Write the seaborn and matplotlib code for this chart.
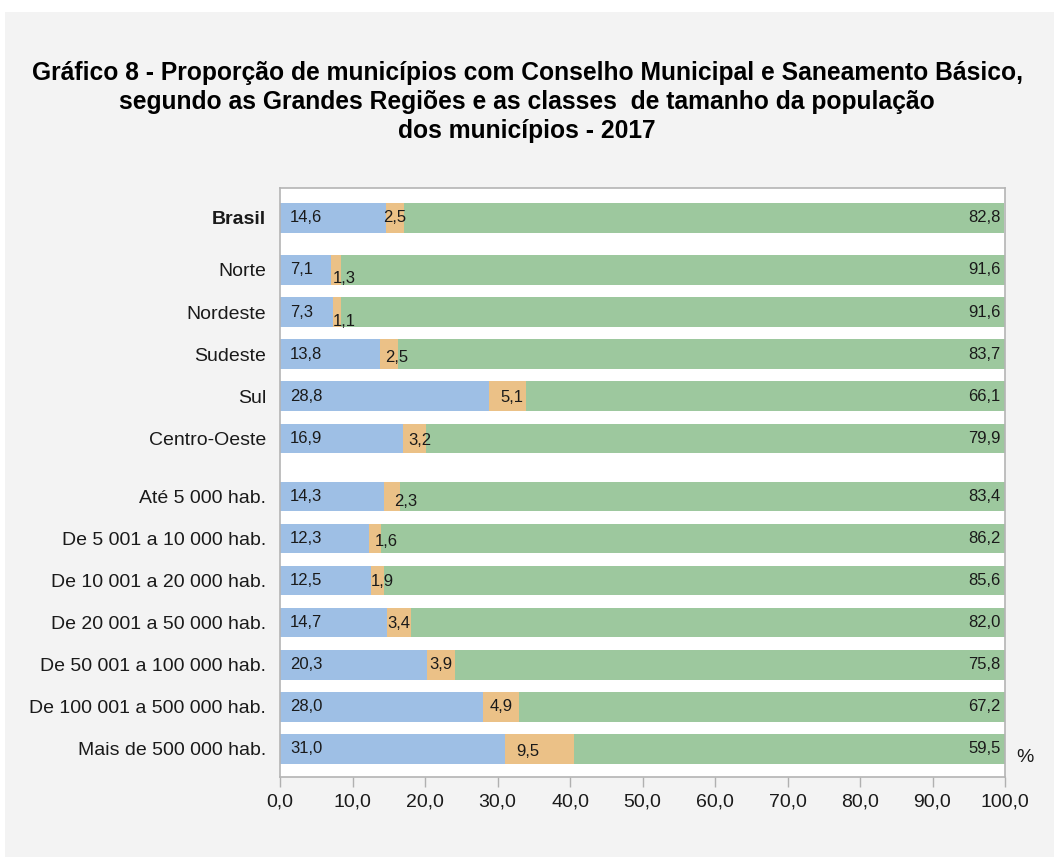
import seaborn as sns
import pandas as pd
import numpy as np
import matplotlib
matplotlib.use("Agg")
import matplotlib.pyplot as plt
from matplotlib.patches import Rectangle

categories = ["Brasil", "Norte", "Nordeste", "Sudeste", "Sul", "Centro-Oeste",
              "Até 5 000 hab.", "De 5 001 a 10 000 hab.", "De 10 001 a 20 000 hab.",
              "De 20 001 a 50 000 hab.", "De 50 001 a 100 000 hab.",
              "De 100 001 a 500 000 hab.", "Mais de 500 000 hab."]
groups = [0, 1, 1, 1, 1, 1, 2, 2, 2, 2, 2, 2, 2]
blue = [14.6, 7.1, 7.3, 13.8, 28.8, 16.9, 14.3, 12.3, 12.5, 14.7, 20.3, 28.0, 31.0]
orange = [2.5, 1.3, 1.1, 2.5, 5.1, 3.2, 2.3, 1.6, 1.9, 3.4, 3.9, 4.9, 9.5]
green = [82.8, 91.6, 91.6, 83.7, 66.1, 79.9, 83.4, 86.2, 85.6, 82.0, 75.8, 67.2, 59.5]
xticks = [0, 10, 20, 30, 40, 50, 60, 70, 80, 90, 100]

# small pixel nudges for the orange labels (as placed in the original)
orange_nudge = [(0, 0), (8, 9), (7, 9), (8, 3), (5, 1), (6, 2), (14, 5),
                (11, 3), (5, 1), (0, 1), (0, 0), (0, 0), (-11, 3)]

C_BLUE = "#9ebfe5"
C_ORANGE = "#ebc187"
C_GREEN = "#9dc89e"

sns.set_theme(style="white")
plt.rcParams['font.family'] = ['Liberation Sans', 'DejaVu Sans']

# extra space between groups
gap = [0, 0.235, 0.613]
pos = [i + gap[g] for i, g in enumerate(groups)]

df = pd.DataFrame({"cat": categories, "pos": pos,
                   "blue": blue, "orange": orange, "green": green})
df["c1"] = df["blue"]
df["c2"] = df["blue"] + df["orange"]
df["c3"] = df["c2"] + df["green"]

fig = plt.figure(figsize=(10.54, 8.57), dpi=100)
fig.patch.set_facecolor("white")
fig.patches.append(Rectangle((5 / 1054, 0), 1, 1 - 12 / 857, transform=fig.transFigure,
                             facecolor="#f3f3f3", edgecolor="none", zorder=-10))
ax = fig.add_axes([280 / 1054, 1 - 777 / 857, 725 / 1054, 589 / 857])
ax.set_facecolor("white")

for col, c in [("c3", C_GREEN), ("c2", C_ORANGE), ("c1", C_BLUE)]:
    sns.barplot(data=df, x=col, y="pos", orient="y", native_scale=True,
                color=c, saturation=1, width=0.7, errorbar=None, linewidth=0, ax=ax)

ax.set_xlim(0, 100)
ax.set_ylim(pos[-1] + 0.665, -0.71)
ax.set_yticks(pos)
ax.set_yticklabels(categories, fontsize=14)
ax.get_yticklabels()[0].set_fontweight("bold")
ax.set_xticks(xticks)
ax.set_xticklabels([f"{v:.1f}".replace(".", ",") for v in xticks], fontsize=14)
ax.set_xlabel("")
ax.set_ylabel("")
ax.tick_params(axis="y", length=0, pad=10, colors="#1a1a1a")
ax.tick_params(axis="x", length=7, width=1, color="#b0b0b0", pad=5,
               labelcolor="#1a1a1a", direction="out", bottom=True)
for s in ax.spines.values():
    s.set_color("#b4b4b4")
    s.set_linewidth(1.2)

fmt = lambda v: f"{v:.1f}".replace(".", ",")
for i, row in df.iterrows():
    y = row["pos"]
    ax.text(1.4, y, fmt(row["blue"]), ha="left", va="center", fontsize=12, color="#1a1a1a")
    dx, dy = orange_nudge[i]
    ax.annotate(fmt(row["orange"]), (row["blue"] + row["orange"] / 2, y),
                xytext=(dx * 0.72, -dy * 0.72), textcoords="offset points",
                ha="center", va="center", fontsize=12, color="#1a1a1a")
    ax.text(99.4, y, fmt(row["green"]), ha="right", va="center", fontsize=12, color="#1a1a1a")

ax.text(1.015, 0.018, "%", transform=ax.transAxes, ha="left", va="bottom",
        fontsize=14, color="#1a1a1a")

fig.text(0.5, 1 - 61 / 857,
         "Gráfico 8 - Proporção de municípios com Conselho Municipal e Saneamento Básico,\n"
         "segundo as Grandes Regiões e as classes  de tamanho da população\n"
         "dos municípios - 2017",
         ha="center", va="top", fontsize=17.7, fontweight="bold", linespacing=1.26,
         color="black")

fig.savefig("out.png", dpi=100)
